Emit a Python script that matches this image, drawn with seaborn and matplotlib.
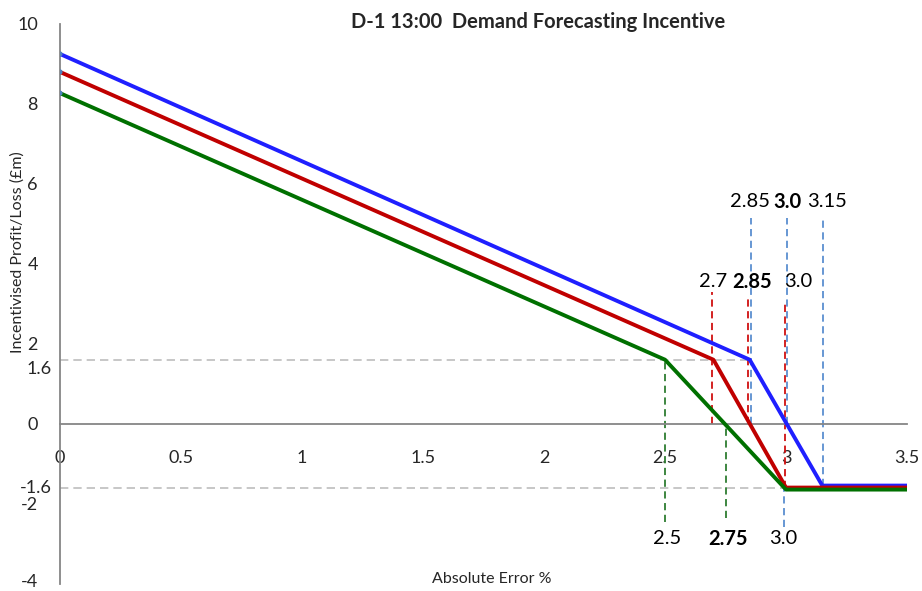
import matplotlib
matplotlib.use("Agg")
import matplotlib.pyplot as plt
import matplotlib.transforms as mtransforms
import seaborn as sns
import pandas as pd
import numpy as np

# ---- data ----
blue_x = [0.0, 2.85, 3.15, 3.5]
blue_y = [9.25, 1.6, -1.55, -1.55]
red_x = [0.0, 2.7, 3.0, 3.5]
red_y = [8.8, 1.6, -1.6, -1.6]
green_x = [0.0, 2.5, 3.0, 3.5]
green_y = [8.27, 1.6, -1.65, -1.65]

band_levels = [1.6, -1.6]
band_ends = [2.85, 3.0]
band_labels = ["1.6", "-1.6"]

blue_guides = [2.85, 3.0, 3.15]
blue_guide_low = [0.0, 0.0, -1.55]
blue_guide_high = [5.15, 5.15, 5.15]
blue_labels = ["2.85", "3.0", "3.15"]
blue_bold = [False, True, False]

red_guides = [2.7, 2.85, 3.0]
red_guide_low = [0.0, 0.0, -1.6]
red_guide_high = [3.3, 3.2, 3.0]
red_labels = ["2.7", "2.85", "3.0"]
red_bold = [False, True, False]

green_guides = [2.5, 2.75, 3.0]
green_guide_low = [-2.47, -2.35, -2.58]
green_guide_high = [1.6, 0.0, -1.6]
green_labels = ["2.5", "2.75", "3.0"]
green_bold = [False, True, False]

xticks = [0, 0.5, 1, 1.5, 2, 2.5, 3, 3.5]
xticklabels = ["0", "0.5", "1", "1.5", "2", "2.5", "3", "3.5"]
yticks = [-4, -2, 0, 2, 4, 6, 8, 10]

title = "D-1 13:00  Demand Forecasting Incentive"
xlabel = "Absolute Error %"
ylabel = "Incentivised Profit/Loss (£m)"

# ---- style ----
sns.set_style("white")
plt.rcParams["font.family"] = ["Lato", "DejaVu Sans"]
plt.rcParams["axes.unicode_minus"] = False

BLUE = "#1F1FFF"
RED = "#C00000"
GREEN = "#007000"
GUIDE_BLUE = "#5B8FD0"
GUIDE_RED = "#D01010"
GUIDE_GREEN = "#2E7D32"
GREY = "#BDBDBD"
SPINE = "#868686"

W, H = 922, 591
fig = plt.figure(figsize=(W / 100, H / 100), dpi=100)
ax = fig.add_axes([60 / W, (H - 583.5) / H, 847 / W, (583.5 - 24) / H])

df = pd.concat([
    pd.DataFrame({"x": blue_x, "y": blue_y, "s": "blue"}),
    pd.DataFrame({"x": red_x, "y": red_y, "s": "red"}),
    pd.DataFrame({"x": green_x, "y": green_y, "s": "green"}),
])

# grey band lines
ax.hlines(band_levels, [0, 0], band_ends, colors=GREY, linestyles=(0, (5, 3)), lw=1.2, zorder=1)

# guides
def guides(xs, lo, hi, color, dx=0.0):
    ax.vlines(np.array(xs) + dx, lo, hi, colors=color, linestyles=(0, (4, 2.5)), lw=1.3, zorder=2)

guides(blue_guides, blue_guide_low, blue_guide_high, GUIDE_BLUE, 0.004)
guides(red_guides, red_guide_low, red_guide_high, GUIDE_RED, -0.006)
guides(green_guides[:2], green_guide_low[:2], green_guide_high[:2], GUIDE_GREEN)
guides(green_guides[2:], green_guide_low[2:], green_guide_high[2:], GUIDE_BLUE, -0.01)

sns.lineplot(data=df, x="x", y="y", hue="s", palette={"blue": BLUE, "red": RED, "green": GREEN},
             estimator=None, sort=False, lw=2.8, legend=False, ax=ax, zorder=3)

starts = pd.DataFrame({"x": [blue_x[0], red_x[0], green_x[0]], "y": [blue_y[0], red_y[0], green_y[0]]})
sns.scatterplot(data=starts, x="x", y="y", color="#4F81BD", s=14, edgecolor="none", ax=ax, zorder=4)

# guide labels
def labels(xs, texts, bold, y, dxs):
    for xv, t, b, d in zip(xs, texts, bold, dxs):
        ax.text(xv + d, y, t, ha="center", va="center", fontsize=14.5,
                fontweight="bold" if b else "normal", color="black", zorder=5)

labels(blue_guides, blue_labels, blue_bold, 5.55, [0.0, 0.005, 0.02])
labels(red_guides, red_labels, red_bold, 3.55, [0.0, 0.01, 0.05])
labels(green_guides, green_labels, green_bold, -2.88, [0.01, 0.01, -0.01])

# axes
ax.set_xlim(0, 3.5)
ax.set_ylim(-4, 10)
ax.set_xticks(xticks)
ax.set_xticklabels(xticklabels)
ax.set_yticks(yticks)
ax.tick_params(axis="x", direction="out", length=7, width=1.2, color=SPINE, pad=12, labelsize=13)
ax.tick_params(axis="y", direction="out", length=7, width=1.2, color=SPINE, pad=9, labelsize=13)
for s in ["top", "right"]:
    ax.spines[s].set_visible(False)
ax.spines["bottom"].set_position(("data", 0))
for s in ["left", "bottom"]:
    ax.spines[s].set_color(SPINE)
    ax.spines[s].set_linewidth(1.3)
ax.set_xlabel("")
ax.set_ylabel("")

# nudge the bottom y tick label up slightly so it stays inside the figure
lbl = ax.get_yticklabels()[0]
lbl.set_transform(lbl.get_transform() + mtransforms.ScaledTranslation(0, 3 / 100, fig.dpi_scale_trans))

# extra y labels for the bands
ytr = ax.get_yaxis_transform()
ax.annotate(band_labels[0], xy=(-0.0095, band_levels[0]), xycoords=ytr, xytext=(0, -7),
            textcoords="offset points", ha="right", va="center", fontsize=13, annotation_clip=False)
ax.annotate(band_labels[1], xy=(-0.0095, band_levels[1]), xycoords=ytr, xytext=(0, 0),
            textcoords="offset points", ha="right", va="center", fontsize=13, annotation_clip=False)

fig.text(538 / W, 1 - 22 / H, title, ha="center", va="center", fontsize=14.5, fontweight="bold")
fig.text(492 / W, 1 - 579 / H, xlabel, ha="center", va="center", fontsize=11.5)
fig.text(18 / W, 1 - 252 / H, ylabel, ha="center", va="center", fontsize=11.5, rotation=90)

fig.savefig("out.png", dpi=100)
